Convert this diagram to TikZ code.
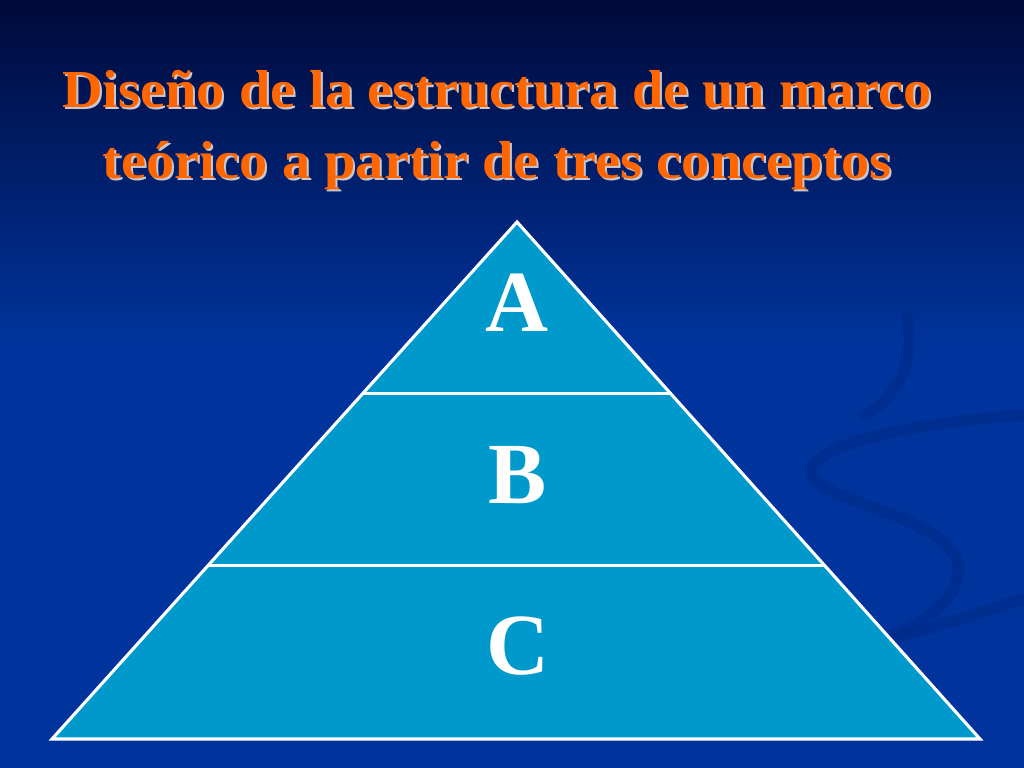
\documentclass[tikz,border=0pt]{standalone}
\usepackage{fontspec}
\setmainfont{Liberation Serif}
\newfontfamily\slidetitlefont{Liberation Serif}[FakeStretch=1.055]
\usetikzlibrary{calc}
\definecolor{slidetop}{RGB}{0,10,58}
\definecolor{slideblue}{RGB}{0,51,155}
\definecolor{swirlblue}{RGB}{0,38,125}
\definecolor{tierblue}{RGB}{0,153,204}
\definecolor{titleorange}{RGB}{255,102,0}
\definecolor{shadowgrey}{RGB}{200,200,210}
\tikzset{
	title/.style = {
		text = titleorange,
		font = \slidetitlefont\fontsize{38}{50}\selectfont\bfseries,
		anchor = base
	},
	titleshadow/.style = {
		title,
		text = shadowgrey
	},
	tier/.style = {
		text = white,
		font = \fontsize{62}{62}\selectfont\bfseries,
		anchor = base
	},
	edge/.style = {
		draw = white,
		line width = 2.2pt
	},
	swirl/.style = {
		draw = swirlblue,
		line width = 8pt,
		line cap = round,
		opacity = 0.35
	}
}

\begin{document}
\begin{tikzpicture}[x=0.025cm, y=-0.025cm]
    \useasboundingbox (0,0) rectangle (1024,768) ;
    % background
    \fill [slideblue] (0,0) rectangle (1024,768) ;
    \shade [top color=slidetop, bottom color=slideblue] (0,0) rectangle (1024,340) ;
    \draw [swirl] (907,317) .. controls (915,360) and (900,395) .. (865,415) ;
    \draw [swirl] (1024,415) .. controls (880,425) and (790,455) .. (815,480) .. controls (840,505) and (950,520) .. (958,565) .. controls (962,600) and (920,625) .. (880,640) ;
    \draw [swirl] (890,640) .. controls (940,625) and (990,610) .. (1024,598) ;

    % title
    \node [titleshadow] (shadow1) at (499,110) {Diseño de la estructura de un marco} ;
    \node [titleshadow] (shadow2) at (499,181) {teórico a partir de tres conceptos} ;
    \node [title] (title1) at (497,108) {Diseño de la estructura de un marco} ;
    \node [title] (title2) at (497,179) {teórico a partir de tres conceptos} ;

    % pyramid
    \coordinate (apex) at (517,222) ;
    \coordinate (bl) at (52,739) ;
    \coordinate (br) at (980,739) ;
    \coordinate (abL) at ($(apex)!0.331!(bl)$) ;
    \coordinate (abR) at ($(apex)!0.331!(br)$) ;
    \coordinate (bcL) at ($(apex)!0.665!(bl)$) ;
    \coordinate (bcR) at ($(apex)!0.665!(br)$) ;
    \fill [tierblue] (apex) -- (bl) -- (br) -- cycle ;
    \draw [edge] (abL) -- (abR) ;
    \draw [edge] (bcL) -- (bcR) ;
    \draw [edge] (apex) -- (bl) -- (br) -- cycle ;

    \node [tier] (tierA) at (517,331) {A} ;
    \node [tier] (tierB) at (518,503) {B} ;
    \node [tier] (tierC) at (518,674) {C} ;
\end{tikzpicture}
\end{document}
